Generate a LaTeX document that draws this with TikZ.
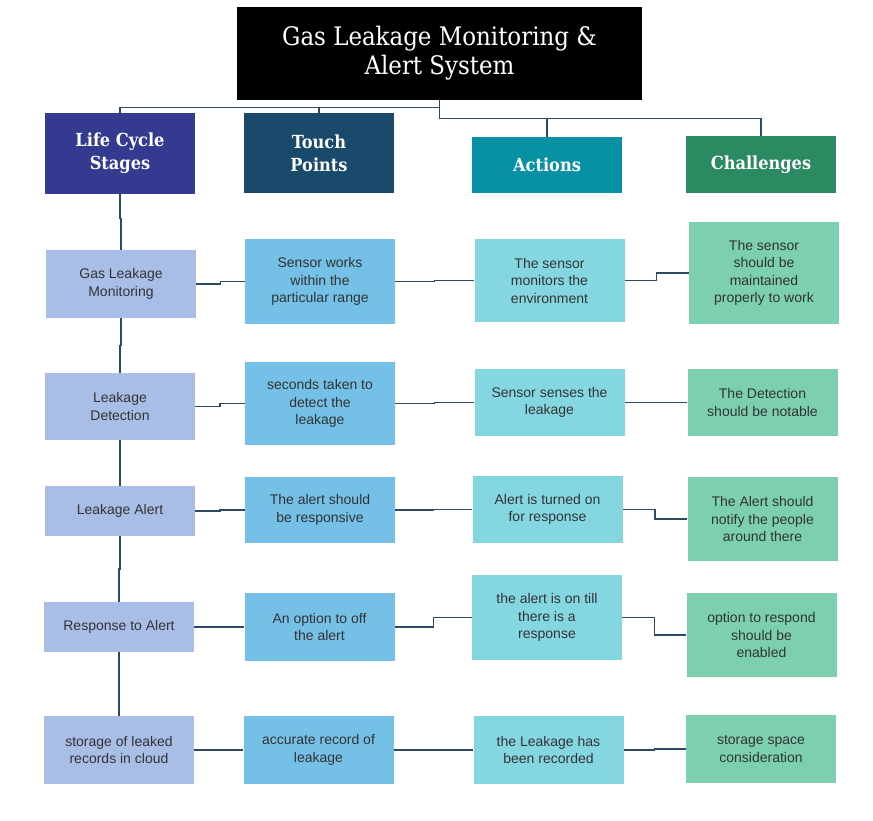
\documentclass[tikz,border=0pt]{standalone}
\usepackage{fontspec}
\setmainfont{Liberation Sans}
\newfontfamily\slabfont{DejaVu Serif Condensed}
\usetikzlibrary{calc}

\definecolor{stagefill}{HTML}{A9BEE6}
\definecolor{touchfill}{HTML}{74C0E6}
\definecolor{actfill}{HTML}{84D7E0}
\definecolor{chalfill}{HTML}{7CD0B0}
\definecolor{stagehead}{HTML}{343A8F}
\definecolor{touchhead}{HTML}{1A4A6B}
\definecolor{acthead}{HTML}{0891A5}
\definecolor{chalhead}{HTML}{2B8A62}
\definecolor{linkcol}{HTML}{2F4A5E}
\definecolor{txtcol}{HTML}{333333}

\begin{document}
\begin{tikzpicture}[
  x=1pt, y=-1pt,
  box/.style={minimum width=150pt, inner sep=0pt, align=center, text=txtcol,
    font=\fontsize{14}{17.5}\selectfont},
  head/.style={minimum width=150pt, inner sep=0pt, align=center, text=white,
    font=\slabfont\bfseries\fontsize{18}{23}\selectfont},
  link/.style={draw=linkcol, line width=1.1pt},
  hstep/.style={to path={(\tikztostart) -| ($(\tikztostart)!0.5!(\tikztotarget)$) |- (\tikztotarget)}},
  vstep/.style={to path={(\tikztostart) |- ($(\tikztostart)!0.5!(\tikztotarget)$) -| (\tikztotarget)}}
]
\useasboundingbox (0,0) rectangle (873,820);

% title
\node[fill=black, text=white, minimum width=405pt, minimum height=93pt, align=center,
  font=\slabfont\fontsize{25.5}{29}\selectfont] (title) at (439.5,53.5)
  {Gas Leakage Monitoring \&\\Alert System};

% column heads
\node[head, fill=stagehead, minimum height=81pt] (stagehd) at (120,153.5) {Life Cycle\\Stages};
\node[head, fill=touchhead, minimum height=80pt] (touchhd) at (319,153) {Touch\\Points};
\node[head, fill=acthead, minimum height=56pt] (acthd) at (547,165) {Actions};
\node[head, fill=chalhead, minimum height=57pt] (chalhd) at (761,164.5) {Challenges};

% life cycle stages
\node[box, fill=stagefill, minimum height=68pt] (stage1) at (121,284) {Gas Leakage\\Monitoring};
\node[box, fill=stagefill, minimum height=67pt] (stage2) at (120,406.5) {Leakage\\Detection};
\node[box, fill=stagefill, minimum height=50pt] (stage3) at (120,511) {Leakage Alert};
\node[box, fill=stagefill, minimum height=50pt] (stage4) at (119,627) {Response to Alert};
\node[box, fill=stagefill, minimum height=68pt] (stage5) at (119,750) {storage of leaked\\records in cloud};

% touch points
\node[box, fill=touchfill, minimum height=85pt] (touch1) at (320,281.5) {Sensor works\\within the\\particular range};
\node[box, fill=touchfill, minimum height=83pt] (touch2) at (320,403.5) {seconds taken to\\detect the\\leakage};
\node[box, fill=touchfill, minimum height=66pt] (touch3) at (320,510) {The alert should\\be responsive};
\node[box, fill=touchfill, minimum height=68pt] (touch4) at (319.5,627) {An option to off\\the alert};
\node[box, fill=touchfill, minimum height=68pt] (touch5) at (318.5,750) {accurate record of\\leakage};

% actions
\node[box, fill=actfill, minimum height=83pt] (act1) at (549.5,280.5) {The sensor\\monitors the\\environment};
\node[box, fill=actfill, minimum height=67pt] (act2) at (549.5,402.5) {Sensor senses the\\leakage};
\node[box, fill=actfill, minimum height=67pt] (act3) at (547.5,509.5) {Alert is turned on\\for response};
\node[box, fill=actfill, minimum height=85pt] (act4) at (547,617.5) {the alert is on till\\there is a\\response};
\node[box, fill=actfill, minimum height=68pt] (act5) at (548.5,750) {the Leakage has\\been recorded};

% challenges
\node[box, fill=chalfill, minimum height=102pt] (chal1) at (764,273) {The sensor\\should be\\maintained\\properly to work};
\node[box, fill=chalfill, minimum height=67pt] (chal2) at (762.5,402.5) {The Detection\\should be notable};
\node[box, fill=chalfill, minimum height=84pt] (chal3) at (762.5,519) {The Alert should\\notify the people\\around there};
\node[box, fill=chalfill, minimum height=84pt] (chal4) at (761.5,635) {option to respond\\should be\\enabled};
\node[box, fill=chalfill, minimum height=68pt] (chal5) at (761,749) {storage space\\consideration};

% tree from the title
\draw[link] (title.south) -- ([yshift=-7]title.south) -| (stagehd.north);
\draw[link] ([yshift=-7]title.south) -| (touchhd.north);
\draw[link] (title.south) -- ([yshift=-18]title.south) -| (chalhd.north);
\draw[link] ([yshift=-18]title.south) -| (acthd.north);

% stage chain
\draw[link] (stagehd) edge[vstep] (stage1) (stage1) edge[vstep] (stage2)
  (stage2) edge[vstep] (stage3) (stage3) edge[vstep] (stage4) (stage4) edge[vstep] (stage5);

% rows
\draw[link] (stage1) edge[hstep] (touch1) (touch1) edge[hstep] (act1) (act1) edge[hstep] (chal1);
\draw[link] (stage2) edge[hstep] (touch2) (touch2) edge[hstep] (act2) (act2) edge[hstep] (chal2);
\draw[link] (stage3) edge[hstep] (touch3) (touch3) edge[hstep] (act3) (act3) edge[hstep] (chal3);
\draw[link] (stage4) edge[hstep] (touch4) (touch4) edge[hstep] (act4) (act4) edge[hstep] (chal4);
\draw[link] (stage5) edge[hstep] (touch5) (touch5) edge[hstep] (act5) (act5) edge[hstep] (chal5);

\end{tikzpicture}
\end{document}
